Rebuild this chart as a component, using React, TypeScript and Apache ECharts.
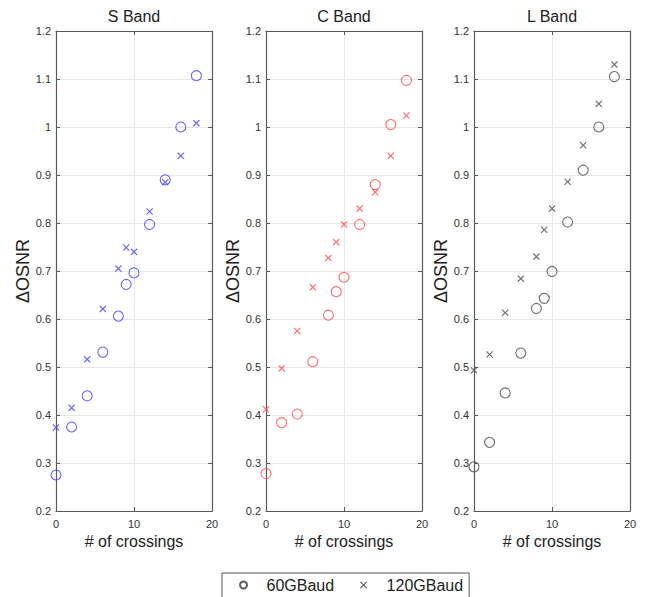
import React, { useEffect, useRef } from "react";
import * as echarts from "echarts";

const crossings = [0, 2, 4, 6, 8, 9, 10, 12, 14, 16, 18];
const sBand60 = [0.275, 0.375, 0.44, 0.531, 0.606, 0.672, 0.696, 0.797, 0.89, 1.0, 1.107];
const sBand120 = [0.374, 0.415, 0.516, 0.621, 0.705, 0.749, 0.74, 0.824, 0.885, 0.94, 1.008];
const cBand60 = [0.278, 0.384, 0.402, 0.511, 0.608, 0.657, 0.687, 0.797, 0.88, 1.005, 1.097];
const cBand120 = [0.412, 0.497, 0.575, 0.666, 0.727, 0.76, 0.797, 0.83, 0.864, 0.94, 1.024];
const lBand60 = [0.292, 0.343, 0.446, 0.529, 0.622, 0.643, 0.699, 0.802, 0.91, 1.0, 1.105];
const lBand120 = [0.493, 0.526, 0.613, 0.684, 0.73, 0.786, 0.83, 0.886, 0.962, 1.048, 1.13];

const bandTitles = ["S Band", "C Band", "L Band"];
const legendNames = ["60GBaud", "120GBaud"];
const xTitle = "# of crossings";
const yTitle = "ΔOSNR";

const FONT = "'Liberation Sans', Arial, Helvetica, sans-serif";
const CROSS =
  "path://M0,1.2 L1.2,0 L5,3.8 L8.8,0 L10,1.2 L6.2,5 L10,8.8 L8.8,10 L5,6.2 L1.2,10 L0,8.8 L3.8,5 Z";

export default function App() {
  const ref = useRef<HTMLDivElement>(null);
  useEffect(() => {
    if (!ref.current) return;
    const chart = echarts.init(ref.current, undefined, { renderer: "svg" });
    const bands = [
      { c60: sBand60, c120: sBand120, color: "#4040ff" },
      { c60: cBand60, c120: cBand120, color: "#ff4848" },
      { c60: lBand60, c120: lBand120, color: "#4a4a4a" },
    ];
    const gridLefts = [56, 266, 474];
    const axisColor = "#5a5a5a";
    const grid = gridLefts.map((l) => ({ left: l, top: 31, width: 156, height: 480, containLabel: false }));
    const xAxis: any[] = [];
    const yAxis: any[] = [];
    const series: any[] = [];
    bands.forEach((b, i) => {
      xAxis.push({
        type: "value",
        gridIndex: i,
        min: 0,
        max: 20,
        interval: 10,
        position: "bottom",
        axisLine: { show: true, onZero: false, lineStyle: { color: axisColor, width: 1.2 } },
        axisTick: { show: true, inside: true, length: 4, lineStyle: { color: axisColor } },
        axisLabel: { margin: 7, fontSize: 11, color: "#333", fontFamily: FONT },
        splitLine: { show: true, lineStyle: { color: "#e6e6e6", width: 1 } },
        name: xTitle,
        nameLocation: "middle",
        nameGap: 22,
        nameTextStyle: { fontSize: 16, color: "#222", fontFamily: FONT },
      });
      xAxis.push({
        type: "value",
        gridIndex: i,
        min: 0,
        max: 20,
        interval: 10,
        position: "top",
        axisLine: { show: true, onZero: false, lineStyle: { color: axisColor, width: 1.2 } },
        axisTick: { show: true, inside: true, length: 4, lineStyle: { color: axisColor } },
        axisLabel: { show: false },
        splitLine: { show: false },
        name: bandTitles[i],
        nameLocation: "middle",
        nameGap: 7,
        nameTextStyle: { fontSize: 16, color: "#222", fontFamily: FONT },
      });
      yAxis.push({
        type: "value",
        gridIndex: i,
        min: 0.2,
        max: 1.2,
        interval: 0.1,
        position: "left",
        axisLine: { show: true, onZero: false, lineStyle: { color: axisColor, width: 1.2 } },
        axisTick: { show: true, inside: true, length: 4, lineStyle: { color: axisColor } },
        axisLabel: {
          margin: 5,
          fontSize: 11,
          color: "#333",
          fontFamily: FONT,
          formatter: (v: number) => String(Math.round(v * 10) / 10),
        },
        splitLine: { show: true, lineStyle: { color: "#e6e6e6", width: 1 } },
        name: yTitle,
        nameLocation: "middle",
        nameGap: 21,
        nameTextStyle: { fontSize: 18, color: "#222", fontFamily: FONT },
      });
      yAxis.push({
        type: "value",
        gridIndex: i,
        min: 0.2,
        max: 1.2,
        interval: 0.1,
        position: "right",
        axisLine: { show: true, onZero: false, lineStyle: { color: axisColor, width: 1.2 } },
        axisTick: { show: true, inside: true, length: 4, lineStyle: { color: axisColor } },
        axisLabel: { show: false },
        splitLine: { show: false },
      });
      series.push({
        type: "scatter",
        name: bandTitles[i] + " 60",
        xAxisIndex: 2 * i,
        yAxisIndex: 2 * i,
        symbol: "circle",
        symbolSize: 10,
        itemStyle: { color: "rgba(255,255,255,0)", borderColor: b.color, borderWidth: 1.1 },
        data: crossings.map((x, k) => [x, b.c60[k]]),
        z: 3,
      });
      series.push({
        type: "scatter",
        name: bandTitles[i] + " 120",
        xAxisIndex: 2 * i,
        yAxisIndex: 2 * i,
        symbol: CROSS,
        symbolSize: 7,
        itemStyle: { color: b.color },
        data: crossings.map((x, k) => [x, b.c120[k]]),
        z: 4,
      });
    });
    series.push({
      type: "scatter",
      name: legendNames[0],
      xAxisIndex: 0,
      yAxisIndex: 0,
      symbol: "circle",
      symbolSize: 7,
      itemStyle: { color: "rgba(255,255,255,0)", borderColor: "#333", borderWidth: 1 },
      data: [],
    });
    series.push({
      type: "scatter",
      name: legendNames[1],
      xAxisIndex: 0,
      yAxisIndex: 0,
      symbol: CROSS,
      symbolSize: 6,
      itemStyle: { color: "#333" },
      data: [],
    });
    chart.setOption({
      animation: false,
      backgroundColor: "#ffffff",
      textStyle: { fontFamily: FONT },
      grid,
      xAxis,
      yAxis,
      series,
      legend: {
        data: legendNames,
        left: 222,
        top: 573,
        orient: "horizontal",
        padding: [4, 6, 12, 17],
        itemWidth: 36,
        itemHeight: 7,
        itemGap: 26,
        borderColor: "#555",
        borderWidth: 1,
        selectedMode: false,
        textStyle: { fontSize: 16, color: "#222", fontFamily: FONT },
      },
    });
    return () => chart.dispose();
  }, []);
  return (
    <div
      ref={ref}
      style={{ position: "fixed", left: 0, top: 0, width: 649, height: 597, background: "#fff" }}
    />
  );
}
